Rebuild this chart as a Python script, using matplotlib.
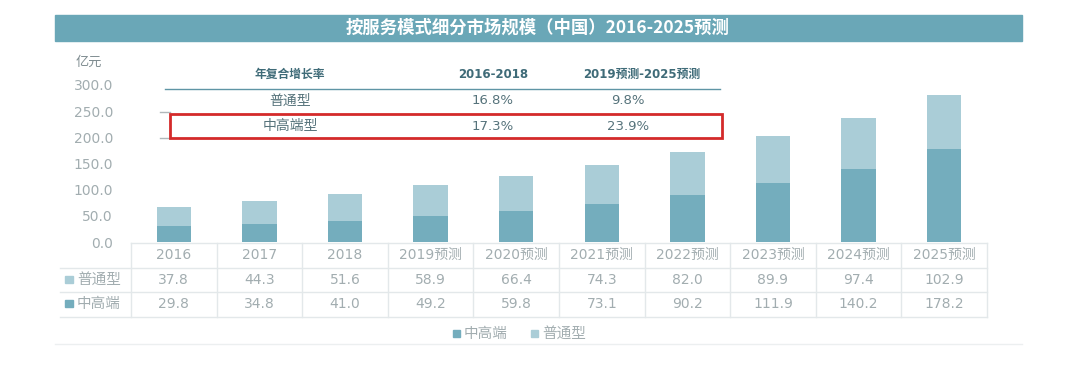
import matplotlib
matplotlib.use("Agg")
import matplotlib.pyplot as plt
from matplotlib.patches import Rectangle

plt.rcParams["font.family"] = ["Noto Sans CJK SC", "DejaVu Sans"]
NUM_FONT = ["DejaVu Sans", "Noto Sans CJK SC"]

YEARS = ["2016", "2017", "2018", "2019预测", "2020预测", "2021预测",
         "2022预测", "2023预测", "2024预测", "2025预测"]
HIGH_END = [29.8, 34.8, 41.0, 49.2, 59.8, 73.1, 90.2, 111.9, 140.2, 178.2]
REGULAR = [37.8, 44.3, 51.6, 58.9, 66.4, 74.3, 82.0, 89.9, 97.4, 102.9]
CAGR_HEADER = ["年复合增长率", "2016-2018", "2019预测-2025预测"]
CAGR_ROWS = [["普通型", "16.8%", "9.8%"], ["中高端型", "17.3%", "23.9%"]]
TITLE = "按服务模式细分市场规模（中国）2016-2025预测"

C_HIGH = "#74adbd"
C_REG = "#aacdd7"
C_BAR_TITLE = "#6aa7b7"
C_TXT = "#a2adb0"
C_HEAD = "#3f6b78"
C_GRID = "#e3e8ea"

W, H = 1073, 365
fig = plt.figure(figsize=(W / 100, H / 100), dpi=100)

# overlay in pixel coordinates
ov = fig.add_axes([0, 0, 1, 1])
ov.set_xlim(0, W)
ov.set_ylim(H, 0)
ov.axis("off")

# title banner
ov.add_patch(Rectangle((55, 15), 967, 26, color=C_BAR_TITLE, zorder=1))
ov.text(538, 28, TITLE, color="white", fontsize=12.5, fontweight="bold",
        ha="center", va="center")

# bar axes
left, right, top, bottom = 131, 987, 85, 242
ax = fig.add_axes([left / W, (H - bottom) / H, (right - left) / W, (bottom - top) / H])
x = list(range(len(YEARS)))
ax.bar(x, HIGH_END, width=0.4, color=C_HIGH, label="中高端")
ax.bar(x, REGULAR, width=0.4, bottom=HIGH_END, color=C_REG, label="普通型")
ax.set_xlim(-0.5, len(YEARS) - 0.5)
ax.set_ylim(0, 300)
ax.set_yticks(range(0, 301, 50))
ax.set_yticklabels([f"{v:.1f}" for v in range(0, 301, 50)], family=NUM_FONT)
ax.tick_params(axis="y", length=0, labelsize=10, labelcolor=C_TXT, pad=13)
ax.set_xticks([])
for s in ax.spines.values():
    s.set_visible(False)
ax.patch.set_alpha(0)
ov.text(89, 62, "亿元", fontsize=9.5, color="#7f8c90", ha="center", va="center")

# data table under the chart
colw = (right - left) / len(YEARS)
rows_y = [243, 268, 292, 317]
ov.plot([left, right], [rows_y[0], rows_y[0]], color=C_GRID, lw=1)
for yy in rows_y[1:]:
    ov.plot([60, right], [yy, yy], color=C_GRID, lw=1)
for i in range(len(YEARS) + 1):
    xx = left + i * colw
    ov.plot([xx, xx], [rows_y[0], rows_y[3]], color=C_GRID, lw=1)
for i, yr in enumerate(YEARS):
    cx = left + (i + 0.5) * colw
    ov.text(cx, 255, yr, fontsize=10, color=C_TXT, ha="center", va="center", family=NUM_FONT)
    ov.text(cx, 280, f"{REGULAR[i]:.1f}", fontsize=10, color=C_TXT, ha="center", va="center",
            family=NUM_FONT)
    ov.text(cx, 304, f"{HIGH_END[i]:.1f}", fontsize=10, color=C_TXT, ha="center", va="center",
            family=NUM_FONT)
ov.add_patch(Rectangle((65, 276), 8, 7, color=C_REG))
ov.text(77, 280, "普通型", fontsize=10.5, color=C_TXT, ha="left", va="center")
ov.add_patch(Rectangle((65, 300), 8, 7, color=C_HIGH))
ov.text(77, 304, "中高端", fontsize=10.5, color=C_TXT, ha="left", va="center")

# legend
ov.add_patch(Rectangle((453, 330), 7, 7, color=C_HIGH))
ov.text(464, 334, "中高端", fontsize=10.5, color=C_TXT, ha="left", va="center")
ov.add_patch(Rectangle((531, 330), 7, 7, color=C_REG))
ov.text(542, 334, "普通型", fontsize=10.5, color=C_TXT, ha="left", va="center")
ov.plot([55, 1022], [344, 344], color="#eceff0", lw=1)

# CAGR table overlay
cagr_x = [290, 493, 642]
for cx, t in zip(cagr_x, CAGR_HEADER):
    ov.text(cx, 74, t, fontsize=8.5, fontweight="bold", color=C_HEAD, ha="center", va="center",
            family=NUM_FONT if t[0].isdigit() else None)
ov.plot([165, 720], [89, 89], color="#5f95a5", lw=1)
for yy, row in zip([101, 126], CAGR_ROWS):
    for j, (cx, t) in enumerate(zip([290, 493, 628], row)):
        ov.text(cx, yy, t, fontsize=9.5 if j else 10, color="#56737b", ha="center", va="center",
                family=NUM_FONT if j else None)
ov.plot([160, 170], [112, 112], color="#b0b8bb", lw=1)
ov.plot([160, 170], [138, 138], color="#b0b8bb", lw=1)
ov.add_patch(Rectangle((170, 114), 552, 24, fill=False, edgecolor="#d42a2a", lw=2, zorder=5))

fig.savefig("out.png", dpi=100)
